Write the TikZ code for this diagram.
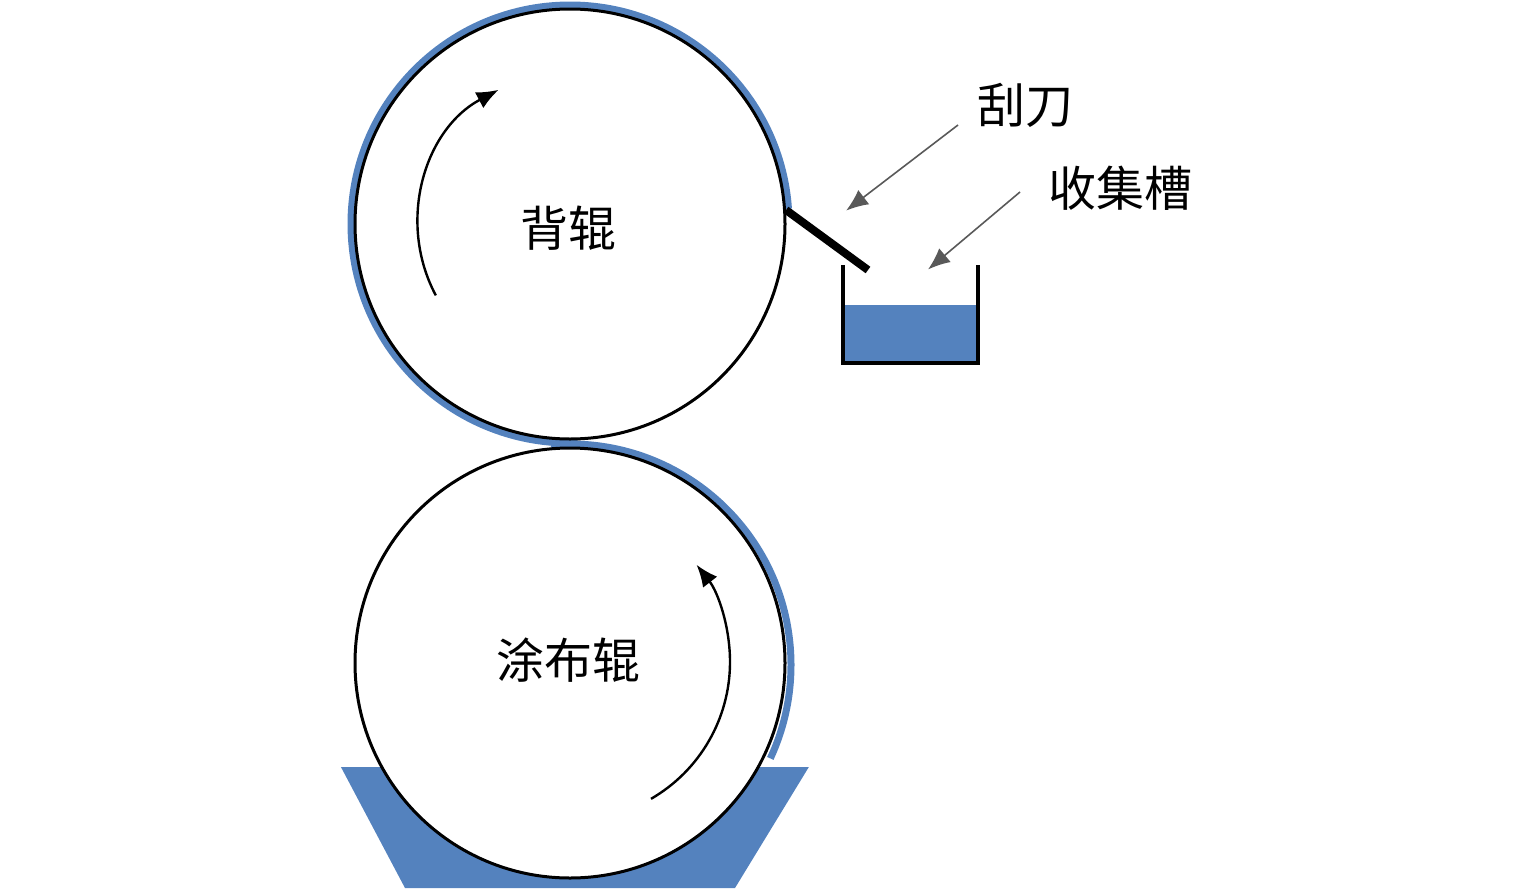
\documentclass[tikz,border=0pt]{standalone}
\usepackage{fontspec}
\newfontfamily\cjk{Noto Sans CJK SC}
\usetikzlibrary{arrows.meta}
\definecolor{coat}{RGB}{84,130,190}
\tikzset{lbl/.style={font=\cjk\fontsize{24}{24}\selectfont},
 rot/.style={line width=1.2pt,-{Latex[length=11pt,width=9pt]}},
 pointer/.style={gray!70!black,thick,-{Latex[length=11pt,width=9pt]},shorten >=2pt},
 roll/.style={draw=black,line width=1.5pt,fill=white}}
\begin{document}
\begin{tikzpicture}[x=0.5pt,y=-0.5pt]
\useasboundingbox (0,0) rectangle (1535,894);
% bottom tray
\fill[coat] (333,752) -- (818,752) -- (735,888) -- (405,888) -- cycle;
\fill[white] (333,752) rectangle (818,767);
% coating layers
\draw[coat,line width=3.5pt] (570,224) ++(88:219) arc (88:356:219);
\draw[coat,line width=3.5pt] (570,665) ++(-95:221) arc (-95:25:221);
% rolls
\node[roll,circle,minimum size=215pt,inner sep=0pt] (top) at (570,224) {};
\node[roll,circle,minimum size=215pt,inner sep=0pt] (bot) at (570,663) {};
\node[lbl] (t1) at (568,228) {背辊};
\node[lbl] (t2) at (568,660) {涂布辊};
% rotation arrows
\draw[rot] (570,224) ++(152:152) arc (152:242:152);
\draw[rot] (572,662) ++(60:158) arc (60:-38:158);
% blade
\coordinate (b1) at (786,210);
\coordinate (b2) at (868,270);
\draw[line width=4pt] (b1) -- (b2);
% collecting trough
\fill[coat] (843,305) rectangle (978,363);
\draw[line width=2pt] (843,265) -- (843,363) -- (978,363) -- (978,265);
% labels
\node[lbl] (l1) at (1025,105) {刮刀};
\node[lbl] (l2) at (1120,188) {收集槽};
\coordinate (a1) at (843,213);
\coordinate (a2) at (925,272);
\draw[pointer] (958,125) -- (a1);
\draw[pointer] (1020,192) -- (a2);
\end{tikzpicture}
\end{document}
